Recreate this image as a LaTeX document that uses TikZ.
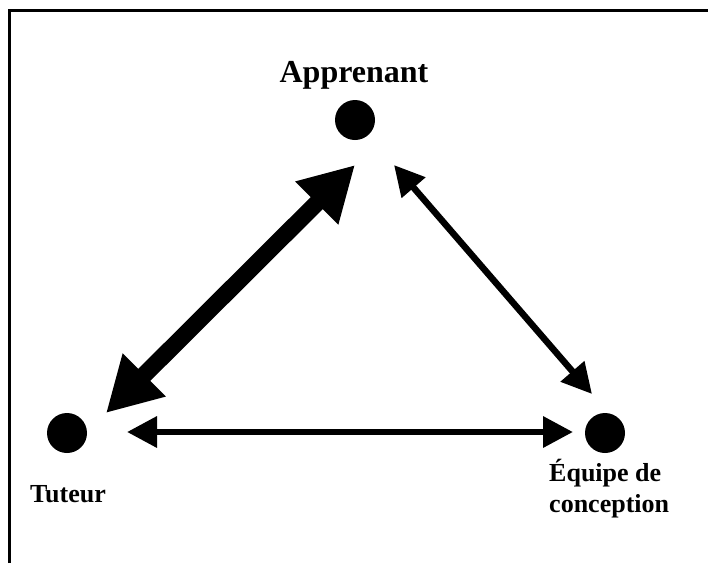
\documentclass[tikz,border=0pt]{standalone}
\usepackage{fontspec}
\setmainfont{Liberation Serif}
\usetikzlibrary{arrows.meta}
\begin{document}
\begin{tikzpicture}[x=1pt,y=-1pt,
  dot/.style={circle,fill=black,minimum size=40pt,inner sep=0pt},
  lbl/.style={inner sep=0pt,font=\bfseries\fontsize{26}{31}\selectfont},
  biglbl/.style={inner sep=0pt,font=\bfseries\fontsize{32}{38}\selectfont},
  strong/.style={line width=17pt,{Triangle[length=54pt,width=57pt]}-{Triangle[length=54pt,width=57pt]}},
  weak/.style={line width=6.5pt,{Triangle[length=30pt,width=30pt]}-{Triangle[length=30pt,width=30pt]}}]
\useasboundingbox (0,0) rectangle (708,563);
% frame: top and left edges only
\draw[line width=2.2pt] (9.5,563) -- (9.5,10.5) -- (708,10.5);
% the three actors
\node[dot] (app) at (355,120) {};
\node[dot] (tut) at (67,433) {};
\node[dot] (equ) at (605,433) {};
\node[biglbl,anchor=base] (lapp) at (354,82) {Apprenant};
\node[lbl,anchor=base west] (ltut) at (30,502) {Tuteur};
\node[lbl,anchor=base west] (lequ1) at (549,481) {Équipe de};
\node[lbl,anchor=base west] (lequ2) at (549,512) {conception};
% arrow end points
\coordinate (at) at (355,165);
\coordinate (ta) at (106,413);
\coordinate (ae) at (394,165);
\coordinate (ea) at (592,394);
\coordinate (te) at (127,432);
\coordinate (et) at (573,432);
% links
\draw[strong] (ta) -- (at);
\draw[weak] (ae) -- (ea);
\draw[weak] (te) -- (et);
\end{tikzpicture}
\end{document}
